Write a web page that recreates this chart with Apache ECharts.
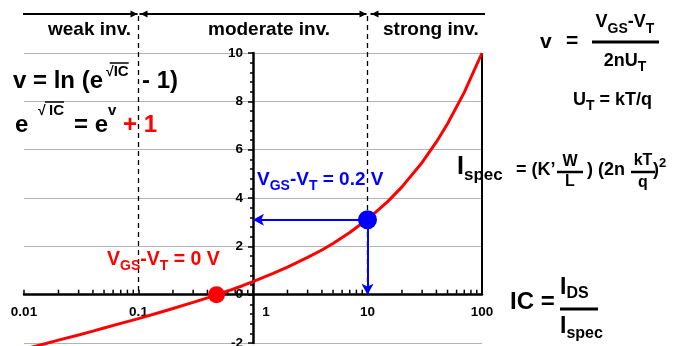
<!DOCTYPE html>
<html>
<head>
<meta charset="utf-8">
<script src="https://cdn.jsdelivr.net/npm/echarts@6/dist/echarts.min.js"></script>
<style>
html, body { margin: 0; padding: 0; background: #fff; }
#chart { width: 673px; height: 346px; }
</style>
</head>
<body>
<div id="chart"></div>
<script>
// values
const icValues = [0.01, 0.0126, 0.015, 0.02, 0.03, 0.04, 0.05, 0.07, 0.1, 0.15, 0.2, 0.3, 0.4, 0.48, 0.6, 0.8, 1, 1.5, 2, 3, 4, 5, 7, 10, 15, 20, 30, 40, 50, 70, 100];
const vValues = [-2.25, -2.13, -2.04, -1.88, -1.67, -1.51, -1.38, -1.19, -0.99, -0.75, -0.57, -0.32, -0.13, 0.0, 0.15, 0.36, 0.54, 0.88, 1.14, 1.54, 1.85, 2.12, 2.57, 3.12, 3.85, 4.46, 5.47, 6.32, 7.07, 8.37, 10.0];
const xMinorTicks = [0.02, 0.03, 0.04, 0.05, 0.06, 0.07, 0.08, 0.09,
    0.2, 0.3, 0.4, 0.5, 0.6, 0.7, 0.8, 0.9,
    2, 3, 4, 5, 6, 7, 8, 9,
    20, 30, 40, 50, 60, 70, 80, 90];
const yMin = -2, yMax = 10, yStep = 2;
const pointZero = [0.48, 0];     // VGS-VT = 0 V
const pointTwo = [10, 3.1];      // VGS-VT = 0.2 V
const regionEdges = [0.1, 10];   // weak / moderate / strong
const regionLabels = ['weak inv.', 'moderate inv.', 'strong inv.'];

const gridLeft = 24, gridRight = 191, gridTop = 53, gridBottom = 3;
const chartW = 673, chartH = 346;
const gridW = chartW - gridLeft - gridRight;
const gridH = chartH - gridTop - gridBottom;

const chart = echarts.init(document.getElementById('chart'));

const option = {
    animation: false,
    backgroundColor: '#fff',
    grid: {left: gridLeft, right: gridRight, top: gridTop, bottom: gridBottom, containLabel: false, outerBoundsMode: 'none'},
    xAxis: {
        type: 'log',
        logBase: 10,
        min: 0.01,
        max: 100,
        position: 'bottom',
        offset: -gridH * (0 - yMin) / (yMax - yMin),   // sits on v = 0
        axisLine: {onZero: false, lineStyle: {color: '#000', width: 2.5}},
        axisTick: {inside: true, length: 5, lineStyle: {color: '#000', width: 1.5}},
        axisLabel: {
            color: '#000', fontWeight: 'bold', fontSize: 13.5, margin: 11,
            fontFamily: 'Liberation Sans',
            formatter: function (v) {
                return v === 1 ? '{one|1}' : String(v);
            },
            rich: {one: {padding: [0, 0, 0, 26], fontWeight: 'bold', fontSize: 13.5, fontFamily: 'Liberation Sans'}}
        },
        splitLine: {show: false}
    },
    yAxis: {
        type: 'value',
        min: yMin,
        max: yMax,
        interval: yStep,
        position: 'left',
        offset: -gridW / 2,  // sits on IC = 1
        axisLine: {show: true, onZero: false, lineStyle: {color: '#000', width: 2.5}},
        axisTick: {show: true, length: 5, lineStyle: {color: '#000', width: 1.5}},
        minorTick: {show: true, splitNumber: 5, length: 3, lineStyle: {color: '#000', width: 1.5}},
        axisLabel: {color: '#000', fontWeight: 'bold', fontSize: 13.5, margin: 10, fontFamily: 'Liberation Sans'},
        splitLine: {show: true, lineStyle: {color: '#b4b4b4', width: 1}}
    },
    series: [
        {
            // log minor ticks above the axis
            type: 'scatter',
            silent: true,
            symbol: 'rect',
            symbolSize: [1.5, 4],
            symbolOffset: [0, -3],
            itemStyle: {color: '#000', opacity: 1},
            z: 3,
            data: xMinorTicks.map(v => [v, 0])
        },
        {
            type: 'line',
            smooth: false,
            showSymbol: false,
            clip: false,
            lineStyle: {color: '#ff0000', width: 3, join: 'round'},
            z: 5,
            data: icValues.map((x, i) => [x, vValues[i]])
        },
        {
            type: 'scatter',
            symbolSize: 17,
            itemStyle: {color: '#ff0000', opacity: 1},
            z: 6,
            data: [pointZero]
        },
        {
            type: 'scatter',
            symbolSize: 19,
            itemStyle: {color: '#0000ff', opacity: 1},
            z: 6,
            data: [pointTwo],
            markLine: {
                silent: true,
                symbol: ['none', 'arrow'],
                symbolSize: [9, 11],
                label: {show: false},
                lineStyle: {color: '#0000ff', width: 2, type: 'solid'},
                data: [
                    [{coord: pointTwo}, {coord: [1, pointTwo[1]]}],
                    [{coord: pointTwo}, {coord: [pointTwo[0], 0]}]
                ]
            }
        }
    ]
};

chart.setOption(option);

// ---- annotations ----
const FONT = '"Liberation Sans", Arial, sans-serif';
const ctx = document.createElement('canvas').getContext('2d');
function textW(t, s) {
    ctx.font = 'bold ' + s + 'px ' + FONT;
    return ctx.measureText(t).width;
}
function runW(parts) {
    return parts.reduce((a, p) => a + textW(p.t, p.s), 0);
}
// writes pieces left to right, cy = vertical centre of the main text
function run(g, x, cy, parts, color) {
    parts.forEach(p => {
        if (p.x != null) x = p.x;
        const y = cy + (p.dy || 0);
        g.push({
            type: 'text', z: 100, x: x, y: y,
            style: {text: p.t, fill: p.c || color || '#000', font: 'bold ' + p.s + 'px ' + FONT, align: 'left', verticalAlign: 'middle'}
        });
        const w = textW(p.t, p.s);
        if (p.over) {
            g.push({type: 'line', z: 100, shape: {x1: x - 4, y1: y - p.s * 0.6, x2: x + w, y2: y - p.s * 0.6}, style: {stroke: '#000', lineWidth: 1.5}});
        }
        x += w;
    });
    return x;
}
function hline(g, x1, x2, y, w) {
    g.push({type: 'line', z: 100, shape: {x1: x1, y1: y, x2: x2, y2: y}, style: {stroke: '#000', lineWidth: w}});
}
function arrowHead(g, x, y, dir) {
    g.push({type: 'polygon', z: 100, shape: {points: [[x, y], [x - dir * 7, y - 3.5], [x - dir * 7, y + 3.5]]}, style: {fill: '#000'}});
}

const px = v => chart.convertToPixel({xAxisIndex: 0}, v);
const py = v => chart.convertToPixel({yAxisIndex: 0}, v);
const g = [];

// region bar on top
const barY = 14;
const xa = px(regionEdges[0]), xb = px(regionEdges[1]);
hline(g, 23, xa - 1, barY, 2);
arrowHead(g, xa - 1, barY, 1);
hline(g, xa + 1, xb - 1, barY, 2);
arrowHead(g, xa + 2, barY, -1);
arrowHead(g, xb - 1, barY, 1);
hline(g, xb + 3, 485, barY, 2);
arrowHead(g, xb + 4, barY, -1);
regionEdges.forEach(e => {
    g.push({type: 'line', z: 4, shape: {x1: px(e), y1: barY + 2, x2: px(e), y2: py(0)}, style: {stroke: '#000', lineWidth: 1.3, lineDash: [5, 4]}});
});
run(g, 48, 30, [{t: regionLabels[0], s: 19}]);
run(g, 208, 30, [{t: regionLabels[1], s: 19}]);
run(g, 383, 30, [{t: regionLabels[2], s: 19}]);

// right edge line at IC = 100
g.push({type: 'line', z: 4, shape: {x1: px(100), y1: py(10), x2: px(100), y2: py(0)}, style: {stroke: '#000', lineWidth: 2}});

// v = ln (e^sqrt(IC) - 1)
run(g, 13, 81, [
    {t: 'v = ln (e', s: 24},
    {t: '√', s: 14, dy: -9, x: 106},
    {t: 'IC', s: 15, dy: -9, over: true},
    {t: '- 1)', s: 24, x: 142}
]);
// e^sqrt(IC) = e^v + 1
run(g, 15, 125, [
    {t: 'e', s: 24},
    {t: '√', s: 14, dy: -14, x: 38},
    {t: 'IC', s: 15, dy: -14, over: true, x: 49},
    {t: '= e', s: 24, x: 74},
    {t: 'v', s: 15, dy: -14},
    {t: '+ 1', s: 24, c: '#ff0000', x: 123}
]);

// v = (VGS-VT) / 2nUT
run(g, 540, 42, [{t: 'v', s: 21}]);
run(g, 566, 41, [{t: '=', s: 21}]);
const numParts = [{t: 'V', s: 18}, {t: 'GS', s: 14, dy: 7}, {t: '-V', s: 18}, {t: 'T', s: 14, dy: 7}];
const denParts = [{t: '2nU', s: 18}, {t: 'T', s: 14, dy: 6}];
const fc = 625;
run(g, fc - runW(numParts) / 2, 22, numParts);
hline(g, 592, 659, 42, 3);
run(g, fc - runW(denParts) / 2, 61, denParts);
// UT = kT/q
run(g, 573, 100, [{t: 'U', s: 18}, {t: 'T', s: 14, dy: 6}, {t: ' = kT/q', s: 18}]);

// Ispec = (K' W/L) (2n kT/q)^2
run(g, 457, 167, [{t: 'I', s: 25}, {t: 'spec', s: 17, dy: 8}]);
run(g, 516, 170, [{t: '= (K’', s: 18}]);
run(g, 570 - textW('W', 16) / 2, 162, [{t: 'W', s: 16}]);
hline(g, 557, 583, 172, 2.5);
run(g, 570 - textW('L', 16) / 2, 182, [{t: 'L', s: 16}]);
run(g, 587, 170, [{t: ') (2n', s: 18}]);
run(g, 643 - textW('kT', 16) / 2, 161, [{t: 'kT', s: 16}]);
hline(g, 631, 655, 172, 2.5);
run(g, 643 - textW('q', 16) / 2, 183, [{t: 'q', s: 16}]);
run(g, 653, 170, [{t: ')', s: 18}, {t: '2', s: 13, dy: -7}]);

// IC = IDS / Ispec
run(g, 510, 302, [{t: 'IC =', s: 24}]);
run(g, 560, 288, [{t: 'I', s: 23}, {t: 'DS', s: 16, dy: 6}]);
hline(g, 560, 598, 309, 3);
run(g, 560, 327, [{t: 'I', s: 23}, {t: 'spec', s: 16, dy: 7}]);

// point labels
run(g, 257, 180, [{t: 'V', s: 19}, {t: 'GS', s: 14, dy: 6}, {t: '-V', s: 19}, {t: 'T', s: 14, dy: 6}, {t: ' = 0.2 V', s: 19}], '#0000ff');
run(g, 107, 260, [{t: 'V', s: 19.5}, {t: 'GS', s: 14, dy: 6}, {t: '-V', s: 19.5}, {t: 'T', s: 14, dy: 6}, {t: ' = 0 V', s: 19.5}], '#ff0000');

chart.setOption({graphic: g});
</script>
</body>
</html>
